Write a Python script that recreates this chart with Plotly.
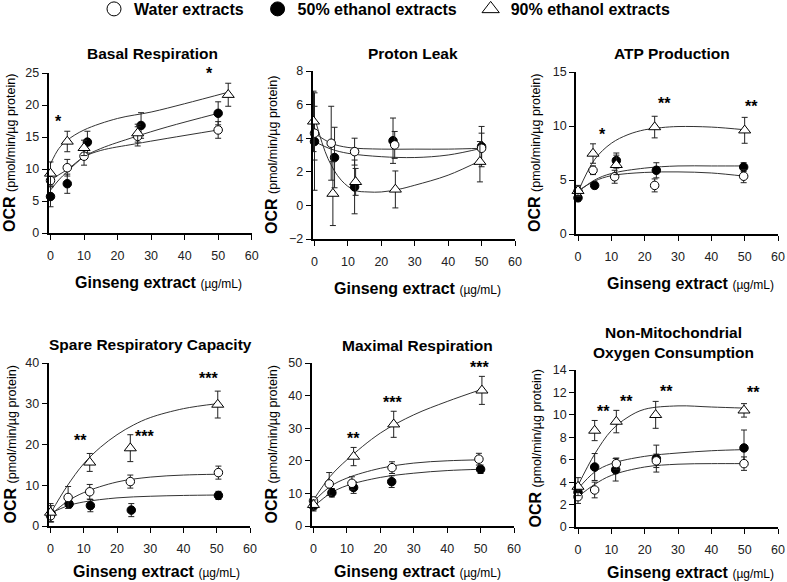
import plotly.graph_objects as go

W, H = 787, 582
FONT = "Liberation Sans, Arial, sans-serif"

# ---------------- data ----------------
titles = ["Basal Respiration", "Proton Leak", "ATP Production",
          "Spare Respiratory Capacity", "Maximal Respiration",
          "Non-Mitochondrial<br>Oxygen Consumption"]
series_names = ["Water extracts", "50% ethanol extracts", "90% ethanol extracts"]
x_ticks = [0, 10, 20, 30, 40, 50, 60]

# Basal Respiration
br_water_x = [0, 5, 10, 26, 50];        br_water_y = [8.2, 10.2, 12.0, 15.1, 16.1];   br_water_e = [1.0, 1.3, 1.4, 1.5, 1.3]
br_e50_x = [0, 5, 11, 27, 50];          br_e50_y = [5.7, 7.7, 14.2, 16.8, 18.7];      br_e50_e = [1.6, 1.5, 1.7, 2.0, 1.8]
br_e90_x = [0, 5, 10, 26, 53];          br_e90_y = [9.3, 14.3, 13.3, 15.6, 21.6];     br_e90_e = [1.8, 1.6, 1.2, 1.4, 1.8]
br_fit_x = [0, 2.5, 5, 10, 15, 25, 35, 50]
br_fit_water = [8.2, 9.1, 9.9, 11.9, 12.9, 13.9, 14.8, 16.1]
br_fit_e50 = [6.7, 8.3, 9.6, 11.9, 13.2, 15.0, 16.6, 18.7]
br_fit_e90_x = [0, 2.5, 5, 10, 20, 30, 40, 53]
br_fit_e90 = [10.8, 13.2, 14.5, 16.1, 17.9, 18.9, 20.2, 22.0]
br_stars = [(2.5, 17.5, "*"), (47.3, 24.9, "*")]

# Proton Leak
pl_water_x = [0, 5, 12, 24, 50];        pl_water_y = [4.3, 3.7, 3.2, 3.6, 3.4];       pl_water_e = [1.6, 2.2, 0.8, 0.8, 0.9]
pl_e50_x = [0, 6, 12, 23.5, 50];        pl_e50_y = [3.8, 2.85, 1.1, 3.85, 3.5];       pl_e50_e = [2.9, 1.8, 1.6, 1.35, 1.2]
pl_e90_x = [-0.3, 5.5, 12.3, 24.2, 49.5]; pl_e90_y = [5.0, 0.7, 1.4, 0.95, 2.6];      pl_e90_e = [1.8, 1.9, 0.8, 1.1, 1.2]
pl_fit_x = [0, 5, 10, 20, 30, 40, 50]
pl_fit_water = [4.3, 3.7, 3.45, 3.35, 3.35, 3.35, 3.4]
pl_fit_e50 = [3.8, 3.35, 3.1, 2.9, 2.85, 3.0, 3.4]
pl_fit_e90_x = [0, 4, 8, 12, 16, 20, 25, 30, 40, 50]
pl_fit_e90 = [5.25, 2.8, 1.5, 0.9, 0.8, 0.8, 0.95, 1.2, 1.8, 2.7]
pl_stars = []

# ATP Production
atp_water_x = [0, 4.5, 11, 23, 49.7];   atp_water_y = [3.95, 5.9, 5.3, 4.5, 5.35];   atp_water_e = [0.4, 0.4, 0.6, 0.6, 0.6]
atp_e50_x = [0, 5, 11.5, 23.5, 49.7];   atp_e50_y = [3.35, 4.5, 6.8, 5.9, 6.2];     atp_e50_e = [0.3, 0.3, 0.7, 0.7, 0.4]
atp_e90_x = [0, 4.5, 11.5, 23, 50];     atp_e90_y = [4.0, 7.45, 6.4, 9.9, 9.6];     atp_e90_e = [0.5, 0.9, 0.9, 1.0, 1.2]
atp_fit_x = [0, 5, 10, 20, 30, 40, 50]
atp_fit_water = [4.0, 4.9, 5.4, 5.7, 5.75, 5.65, 5.35]
atp_fit_e50 = [3.9, 5.0, 5.6, 6.1, 6.3, 6.3, 6.3]
atp_fit_e90_x = [0, 5, 10, 15, 20, 25, 30, 40, 50]
atp_fit_e90 = [3.9, 6.9, 8.4, 9.2, 9.65, 9.85, 9.95, 9.9, 9.65]
atp_stars = [(7.2, 9.2, "*"), (26, 12.1, "**"), (52, 11.8, "**")]

# Spare Respiratory Capacity
src_water_x = [0, 5.3, 11.8, 24, 50.5]; src_water_y = [2.5, 7.0, 8.4, 10.9, 13.1];  src_water_e = [1.5, 2.7, 1.8, 1.6, 1.6]
src_e50_x = [0.2, 5.6, 12, 24.3, 50.5]; src_e50_y = [3.0, 5.4, 5.0, 3.9, 7.5];      src_e50_e = [2.0, 0.9, 1.5, 1.6, 1.0]
src_e90_x = [0, 11.8, 24, 50.3];        src_e90_y = [3.3, 15.6, 19.1, 29.8];        src_e90_e = [2.2, 2.2, 3.3, 3.3]
src_fit_x = [0, 5, 10, 20, 30, 40, 50]
src_fit_water = [2.7, 6.0, 8.2, 10.8, 12.0, 12.5, 12.7]
src_fit_e50 = [3.1, 4.9, 5.9, 6.9, 7.3, 7.5, 7.6]
src_fit_e90_x = [0, 5, 10, 15, 20, 25, 30, 40, 50]
src_fit_e90 = [3.1, 9.8, 15.3, 19.3, 22.4, 24.8, 26.6, 28.8, 30.0]
src_stars = [(9.1, 21.1, "**"), (28.2, 22.0, "***"), (47.6, 36.1, "***")]

# Maximal Respiration
mr_water_x = [0, 4.7, 11.5, 23.5, 49.5]; mr_water_y = [7.7, 12.9, 13.1, 17.9, 20.5]; mr_water_e = [1.0, 3.5, 2.0, 1.8, 1.8]
mr_e50_x = [0, 5.5, 12, 23.4, 50];       mr_e50_y = [6.1, 10.2, 11.8, 13.6, 17.4];   mr_e50_e = [1.5, 1.3, 1.8, 1.8, 1.3]
mr_e90_x = [0, 12, 24, 50.4];            mr_e90_y = [6.5, 21.3, 31.2, 41.6];         mr_e90_e = [1.5, 2.8, 4.0, 4.3]
mr_fit_x = [0, 5, 10, 20, 30, 40, 50]
mr_fit_water = [7.5, 12.1, 14.7, 17.7, 19.3, 20.0, 20.3]
mr_fit_e50 = [5.9, 10.0, 12.4, 14.9, 16.2, 17.0, 17.4]
mr_fit_e90_x = [0, 5, 10, 20, 30, 40, 50]
mr_fit_e90 = [8.0, 15.2, 20.3, 28.5, 34.1, 38.2, 41.8]
mr_stars = [(11.9, 26.7, "**"), (23.7, 37.9, "***"), (49.7, 48.7, "***")]

# Non-Mitochondrial Oxygen Consumption
nm_water_x = [0, 5, 11.5, 23.5, 49.8];  nm_water_y = [2.7, 3.3, 5.65, 5.9, 5.65];    nm_water_e = [0.6, 0.7, 0.5, 0.6, 0.6]
nm_e50_x = [0, 5, 11.3, 23.5, 49.8];    nm_e50_y = [3.1, 5.35, 5.1, 6.1, 7.05];      nm_e50_e = [0.5, 1.2, 1.0, 1.2, 1.6]
nm_e90_x = [0, 5, 11.5, 23.3, 49.8];    nm_e90_y = [3.6, 8.6, 9.4, 10.0, 10.4];      nm_e90_e = [0.8, 0.9, 1.0, 1.2, 0.6]
nm_fit_x = [0, 5, 10, 20, 30, 40, 50]
nm_fit_water = [2.7, 3.8, 4.6, 5.35, 5.6, 5.65, 5.65]
nm_fit_e50 = [3.4, 4.9, 5.65, 6.3, 6.6, 6.8, 6.9]
nm_fit_e90_x = [0, 5, 10, 15, 20, 30, 40, 50]
nm_fit_e90 = [3.7, 6.5, 8.6, 9.8, 10.5, 10.8, 10.7, 10.6]
nm_stars = [(7.7, 10.3, "**"), (14.5, 11.2, "**"), (26.5, 12.1, "**"), (52.5, 12.0, "**")]

y_ranges = [[0, 25], [-2, 8], [0, 15], [0, 40], [0, 50], [0, 14]]
y_dticks = [5, 2, 5, 10, 10, 2]

# ---------------- layout geometry (pixels) ----------------
# (x_left, x_right, y_top, y_bottom)
boxes = [(48.5, 251.7, 73, 233), (312.5, 515, 71, 239), (576, 778, 72, 234),
         (48.5, 250, 363, 526), (311.5, 514, 363, 526), (576, 778, 370, 527)]
x_range = [-0.6, 60]
xtitle_gap = [49, 49, 49, 45, 45, 45]


def px(x):
    return x / W


def py(y):
    return 1 - y / H


panels = [
    (br_water_x, br_water_y, br_water_e, br_e50_x, br_e50_y, br_e50_e, br_e90_x, br_e90_y, br_e90_e,
     br_fit_x, br_fit_water, br_fit_e50, br_fit_e90_x, br_fit_e90, br_stars),
    (pl_water_x, pl_water_y, pl_water_e, pl_e50_x, pl_e50_y, pl_e50_e, pl_e90_x, pl_e90_y, pl_e90_e,
     pl_fit_x, pl_fit_water, pl_fit_e50, pl_fit_e90_x, pl_fit_e90, pl_stars),
    (atp_water_x, atp_water_y, atp_water_e, atp_e50_x, atp_e50_y, atp_e50_e, atp_e90_x, atp_e90_y, atp_e90_e,
     atp_fit_x, atp_fit_water, atp_fit_e50, atp_fit_e90_x, atp_fit_e90, atp_stars),
    (src_water_x, src_water_y, src_water_e, src_e50_x, src_e50_y, src_e50_e, src_e90_x, src_e90_y, src_e90_e,
     src_fit_x, src_fit_water, src_fit_e50, src_fit_e90_x, src_fit_e90, src_stars),
    (mr_water_x, mr_water_y, mr_water_e, mr_e50_x, mr_e50_y, mr_e50_e, mr_e90_x, mr_e90_y, mr_e90_e,
     mr_fit_x, mr_fit_water, mr_fit_e50, mr_fit_e90_x, mr_fit_e90, mr_stars),
    (nm_water_x, nm_water_y, nm_water_e, nm_e50_x, nm_e50_y, nm_e50_e, nm_e90_x, nm_e90_y, nm_e90_e,
     nm_fit_x, nm_fit_water, nm_fit_e50, nm_fit_e90_x, nm_fit_e90, nm_stars),
]

fig = go.Figure()
annotations = []
layout_axes = {}

line_col = "#333333"
water_marker = dict(symbol="circle", size=8.5, color="white", line=dict(color="black", width=1))
e50_marker = dict(symbol="circle", size=8.5, color="black", line=dict(color="black", width=1))
e90_marker = dict(symbol="triangle-up", size=10.5, color="white", line=dict(color="black", width=1))

title_centers = [152, 413, 672, 150, 417, 673]
title_y = [53, 53, 53, 344, 345, 342]
ytitle_x = [10, 272, 535, 10, 271, 535]
xtitle_x = [158, 417, 690, 156, 418, 690]

for i, p in enumerate(panels):
    (wx, wy, we, fx, fy, fe, tx, ty, te, cx, cw, cf, ctx, ct, stars) = p
    n = i + 1
    xa = "x" if n == 1 else f"x{n}"
    ya = "y" if n == 1 else f"y{n}"
    xl, xr, yt, yb = boxes[i]

    # fitted curves
    for cxx, cyy in [(cx, cw), (cx, cf), (ctx, ct)]:
        fig.add_trace(go.Scatter(x=cxx, y=cyy, mode="lines", xaxis=xa, yaxis=ya,
                                 line=dict(color=line_col, width=1, shape="spline", smoothing=1.0),
                                 showlegend=False, hoverinfo="skip"))
    # data points
    for xx, yy, ee, mk in [(fx, fy, fe, e50_marker), (wx, wy, we, water_marker), (tx, ty, te, e90_marker)]:
        fig.add_trace(go.Scatter(x=xx, y=yy, mode="markers", xaxis=xa, yaxis=ya,
                                 marker=mk, cliponaxis=False,
                                 error_y=dict(type="data", array=ee, color="#222222", thickness=1, width=3),
                                 showlegend=False))

    ax_common = dict(showline=True, linecolor="black", linewidth=1.5, showgrid=False, zeroline=False,
                     ticks="outside", ticklen=5, tickwidth=1.2, tickcolor="black",
                     tickfont=dict(family=FONT, size=12.5, color="#222222"))
    layout_axes[f"xaxis{'' if n == 1 else n}"] = dict(
        domain=[px(xl), px(xr)], range=x_range, tickvals=x_ticks, anchor=ya,
        ticklabelstandoff=5, **ax_common)
    layout_axes[f"yaxis{'' if n == 1 else n}"] = dict(
        domain=[py(yb), py(yt)], range=y_ranges[i], dtick=y_dticks[i], anchor=xa, **ax_common)

    # significance stars
    for sx, sy, st in stars:
        annotations.append(dict(x=sx, y=sy, xref=xa, yref=ya, text=f"<b>{st}</b>", showarrow=False,
                                xanchor="center", yanchor="middle",
                                font=dict(family=FONT, size=16, color="black")))

    # panel title
    annotations.append(dict(x=px(title_centers[i]), y=py(title_y[i]), xref="paper", yref="paper",
                            xanchor="center", yanchor="middle",
                            text=f"<b>{titles[i]}</b>", showarrow=False, align="center",
                            font=dict(family=FONT, size=15.5, color="black")))
    # y axis title
    annotations.append(dict(x=px(ytitle_x[i]), y=py((yt + yb) / 2), xref="paper", yref="paper",
                            xanchor="center", yanchor="middle",
                            textangle=-90, showarrow=False,
                            text="<b>OCR</b> <span style='font-size:12.5px'>(pmol/min/µg protein)</span>",
                            font=dict(family=FONT, size=16, color="black")))
    # x axis title
    annotations.append(dict(x=px(xtitle_x[i]), y=py(yb + xtitle_gap[i]), xref="paper", yref="paper",
                            xanchor="center", yanchor="middle",
                            showarrow=False,
                            text="<b>Ginseng extract</b> <span style='font-size:12px'>(µg/mL)</span>",
                            font=dict(family=FONT, size=16, color="black")))

# legend entries
for name, mk in zip(series_names, [water_marker, e50_marker, e90_marker]):
    big = dict(mk)
    big["size"] = 14 if mk["symbol"] == "circle" else 15
    fig.add_trace(go.Scatter(x=[None], y=[None], mode="markers", marker=big,
                             name=f"<b>{name}</b>&nbsp;&nbsp;", showlegend=True))

fig.update_layout(
    width=W, height=H, margin=dict(l=0, r=0, t=0, b=0, autoexpand=False),
    paper_bgcolor="white", plot_bgcolor="white",
    font=dict(family=FONT, color="black"),
    showlegend=True,
    legend=dict(orientation="h", x=px(94), xanchor="left", y=1 + 8 / H, yanchor="top",
                font=dict(family=FONT, size=16, color="black"), bgcolor="rgba(0,0,0,0)",
                itemsizing="trace"),
    annotations=annotations,
    **layout_axes,
)

fig.write_html("out.html", config={"displayModeBar": False},
               post_script="document.body.style.margin='0px';")
